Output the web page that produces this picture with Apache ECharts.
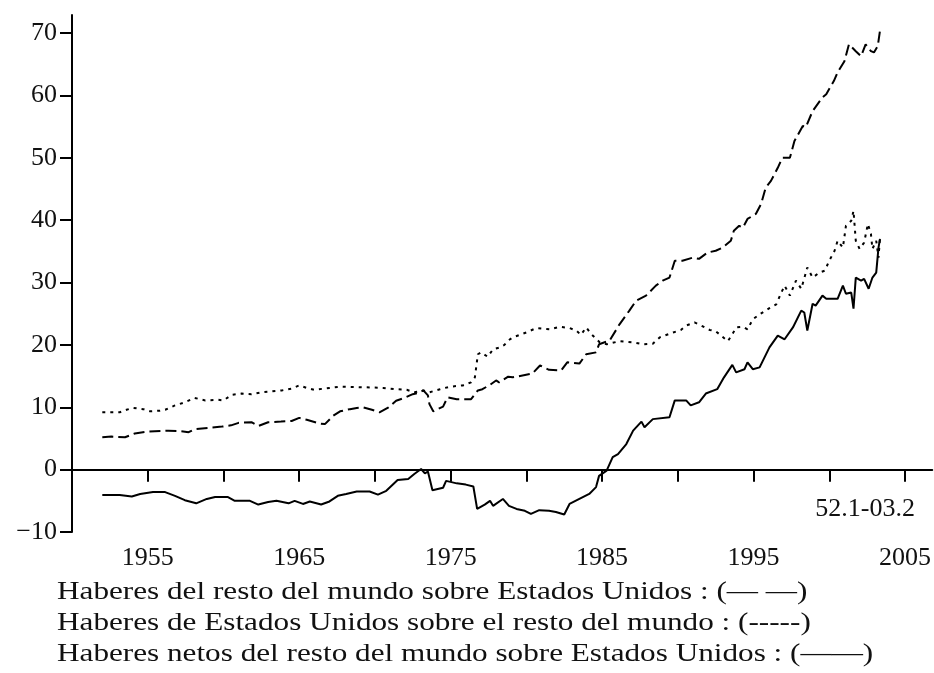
<!DOCTYPE html>
<html>
<head>
<meta charset="utf-8">
<script src="https://cdn.jsdelivr.net/npm/echarts@6/dist/echarts.min.js"></script>
<style>
  html, body { margin: 0; padding: 0; background: #fff; }
  #main { width: 934px; height: 673px; }
</style>
</head>
<body>
<div id="main"></div>
<script>
// axis ticks and labels
var xTicks = [1950, 1955, 1960, 1965, 1970, 1975, 1980, 1985, 1990, 1995, 2000, 2005];
var xLabels = [1955, 1965, 1975, 1985, 1995, 2005];
var yTicks = [-10, 0, 10, 20, 30, 40, 50, 60, 70];

// [year, % of GDP], 1952.1 - 2003.2
var foreignOnUS = [
  [1952.0, 5.2], [1952.6, 5.3], [1953.5, 5.2], [1954.15, 5.8], [1955.0, 6.1], [1956.35, 6.25],
  [1957.0, 6.2], [1957.7, 6.0], [1958.1, 6.5], [1959.0, 6.7], [1959.9, 6.9], [1960.5, 7.1],
  [1961.0, 7.5], [1961.85, 7.6], [1962.3, 7.0], [1962.95, 7.6], [1963.8, 7.7], [1964.5, 7.8],
  [1965.0, 8.3], [1965.5, 8.0], [1966.35, 7.4], [1966.7, 7.3], [1967.25, 8.65], [1967.7, 9.35],
  [1968.35, 9.7], [1968.8, 9.9], [1969.2, 10.0], [1969.8, 9.6], [1970.3, 9.2], [1970.9, 10.0],
  [1971.4, 11.05], [1971.95, 11.5], [1972.5, 12.1], [1972.9, 12.3], [1973.2, 12.7], [1973.5, 11.9],
  [1973.6, 10.5], [1973.85, 9.35], [1974.5, 10.1], [1974.8, 11.6], [1975.4, 11.3], [1976.35, 11.3],
  [1976.8, 12.7], [1977.1, 12.9], [1977.6, 13.6], [1978.0, 14.3], [1978.2, 14.0], [1978.8, 14.9],
  [1979.1, 14.8], [1980.4, 15.4], [1980.9, 16.7], [1981.5, 16.0], [1982.3, 15.9], [1982.7, 17.2],
  [1983.5, 17.0], [1983.95, 18.5], [1984.6, 18.8], [1984.8, 20.1], [1985.5, 20.7], [1986.15, 23.3],
  [1986.8, 25.5], [1987.25, 27.1], [1987.9, 27.9], [1988.55, 29.5], [1989.0, 30.3], [1989.45, 30.8],
  [1989.8, 33.5], [1990.3, 33.5], [1991.0, 34.0], [1991.4, 33.8], [1991.95, 34.8], [1992.5, 35.1],
  [1992.95, 35.6], [1993.5, 36.7], [1993.7, 38.3], [1994.05, 39.1], [1994.3, 38.8], [1994.6, 40.2],
  [1995.15, 41.0], [1995.5, 42.6], [1995.8, 45.2], [1996.15, 46.3], [1996.6, 48.4], [1996.9, 50.0],
  [1997.4, 50.0], [1997.7, 52.7], [1998.25, 55.1], [1998.45, 54.9], [1998.9, 57.5], [1999.55, 59.7],
  [1999.8, 60.2], [2000.3, 62.3], [2000.55, 63.7], [2001.0, 65.5], [2001.3, 68.2], [2001.75, 67.1],
  [2002.1, 66.3], [2002.4, 68.2], [2002.75, 67.1], [2002.95, 66.9], [2003.2, 67.9], [2003.35, 70.4]
];

var usOnForeign = [
  [1952.0, 9.2], [1953.15, 9.2], [1953.6, 9.6], [1954.05, 9.9], [1954.7, 9.7], [1955.15, 9.35],
  [1955.8, 9.45], [1956.15, 9.6], [1956.8, 10.3], [1957.45, 10.8], [1958.1, 11.5], [1958.8, 11.1],
  [1959.65, 11.2], [1960.0, 11.1], [1960.55, 12.0], [1961.2, 12.2], [1961.85, 12.1], [1962.5, 12.4],
  [1963.2, 12.55], [1963.85, 12.7], [1964.5, 13.0], [1965.0, 13.5], [1965.5, 13.1], [1966.0, 12.8],
  [1967.0, 13.1], [1967.7, 13.3], [1969.45, 13.2], [1970.55, 13.1], [1971.4, 12.9], [1972.1, 12.8],
  [1972.6, 12.4], [1973.2, 12.7], [1973.6, 12.4], [1974.3, 12.9], [1974.95, 13.3], [1975.8, 13.5],
  [1976.35, 14.0], [1976.6, 14.8], [1976.8, 18.5], [1977.0, 18.8], [1977.45, 18.1], [1977.8, 19.3],
  [1978.25, 19.6], [1978.55, 20.0], [1978.8, 20.7], [1979.1, 21.2], [1980.0, 22.0], [1980.65, 22.7],
  [1981.55, 22.5], [1982.2, 22.9], [1982.85, 22.7], [1983.3, 22.3], [1983.6, 21.6], [1983.95, 22.8],
  [1984.3, 21.7], [1984.85, 20.4], [1985.3, 20.1], [1986.15, 20.6], [1987.05, 20.4], [1987.7, 20.1],
  [1988.35, 20.2], [1988.8, 21.2], [1989.7, 22.0], [1990.2, 22.4], [1990.55, 23.1], [1991.1, 23.6],
  [1991.55, 23.1], [1992.1, 22.4], [1992.5, 22.2], [1992.85, 21.5], [1993.3, 20.6], [1993.6, 21.7],
  [1993.85, 22.8], [1994.3, 22.9], [1994.6, 22.5], [1994.95, 24.1], [1995.4, 24.9], [1996.05, 25.9],
  [1996.5, 26.5], [1996.8, 28.2], [1997.05, 29.5], [1997.4, 27.9], [1997.8, 30.3], [1998.15, 29.0],
  [1998.55, 32.4], [1998.9, 30.8], [1999.35, 31.6], [1999.7, 31.9], [2000.0, 33.5], [2000.35, 35.1],
  [2000.55, 36.7], [2000.9, 35.6], [2001.1, 39.1], [2001.45, 39.9], [2001.6, 41.5], [2001.75, 36.7],
  [2002.0, 35.4], [2002.3, 36.4], [2002.55, 39.4], [2002.75, 37.8], [2002.85, 35.4], [2003.1, 36.7],
  [2003.25, 34.0], [2003.35, 37.2]
];

var netForeign = [
  [1952.0, -4.05], [1953.15, -4.05], [1953.95, -4.3], [1954.5, -3.9], [1955.35, -3.6], [1956.15, -3.6],
  [1956.8, -4.2], [1957.45, -4.9], [1958.2, -5.4], [1958.9, -4.7], [1959.45, -4.4], [1960.3, -4.4],
  [1960.75, -5.0], [1961.75, -5.0], [1962.3, -5.6], [1962.95, -5.2], [1963.5, -5.0], [1964.3, -5.4],
  [1964.7, -5.0], [1965.25, -5.5], [1965.7, -5.1], [1966.45, -5.6], [1967.0, -5.1], [1967.55, -4.2],
  [1968.1, -3.9], [1968.8, -3.5], [1969.65, -3.5], [1970.2, -4.0], [1970.75, -3.4], [1971.5, -1.65],
  [1972.2, -1.5], [1972.6, -0.7], [1973.05, 0.1], [1973.3, -0.6], [1973.5, -0.3], [1973.8, -3.3],
  [1974.5, -2.9], [1974.7, -1.8], [1975.4, -2.2], [1976.0, -2.4], [1976.5, -2.7], [1976.75, -6.3],
  [1977.25, -5.6], [1977.6, -5.0], [1977.8, -5.8], [1978.45, -4.7], [1978.85, -5.8], [1979.35, -6.3],
  [1979.9, -6.6], [1980.3, -7.1], [1980.85, -6.5], [1981.5, -6.6], [1981.95, -6.8], [1982.5, -7.2],
  [1982.85, -5.5], [1983.5, -4.7], [1984.15, -3.9], [1984.6, -2.8], [1984.8, -1.0], [1985.3, -0.15],
  [1985.7, 2.0], [1986.05, 2.5], [1986.6, 4.1], [1987.05, 6.25], [1987.6, 7.7], [1987.8, 6.8],
  [1988.35, 8.1], [1989.45, 8.4], [1989.8, 11.1], [1990.55, 11.1], [1990.85, 10.3], [1991.4, 10.8],
  [1991.85, 12.2], [1992.6, 12.9], [1993.05, 14.8], [1993.6, 16.8], [1993.85, 15.6], [1994.4, 16.1],
  [1994.6, 17.2], [1994.95, 16.1], [1995.4, 16.4], [1996.05, 19.6], [1996.6, 21.5], [1997.05, 20.9],
  [1997.6, 22.8], [1998.15, 25.5], [1998.35, 25.2], [1998.55, 22.3], [1998.9, 26.6], [1999.1, 26.3],
  [1999.55, 27.9], [1999.8, 27.4], [2000.55, 27.4], [2000.9, 29.5], [2001.1, 28.2], [2001.45, 28.4],
  [2001.6, 25.8], [2001.75, 30.8], [2002.1, 30.3], [2002.3, 30.6], [2002.6, 29.0], [2002.85, 30.8],
  [2003.1, 31.6], [2003.25, 35.6], [2003.35, 37.0]
];

var zeroLine = [[1952.0, 0], [2003.3, 0]];

var legendLines = [
  'Haberes del resto del mundo sobre Estados Unidos : (\u2014 \u2014)',
  'Haberes de Estados Unidos sobre el resto del mundo : (-----)',
  'Haberes netos del resto del mundo sobre Estados Unidos : (\u2014\u2014)'
];
var periodNote = '52.1-03.2';

var serif = '"Liberation Serif", "DejaVu Serif", serif';
var ink = '#111';

var chartDom = document.getElementById('main');
var myChart = echarts.init(chartDom);

var graphics = legendLines.map(function (t, i) {
  return {
    type: 'text',
    x: 57,
    y: 592 + i * 31,
    scaleX: 1.2,
    style: {
      text: t,
      font: '26px ' + serif,
      fill: ink,
      verticalAlign: 'middle'
    }
  };
});
graphics.push({
  type: 'text',
  x: 915,
  y: 509,
  style: {
    text: periodNote,
    font: '26px ' + serif,
    fill: ink,
    align: 'right',
    verticalAlign: 'middle'
  }
});

function lineSeries(name, data, dash, width) {
  return {
    name: name,
    type: 'line',
    data: data,
    showSymbol: false,
    silent: true,
    lineStyle: { color: '#000', width: width, type: dash }
  };
}

var option = {
  animation: false,
  backgroundColor: '#fff',
  grid: { left: 72, right: 0, top: 15, bottom: 141 },
  xAxis: {
    type: 'value',
    min: 1950,
    max: 2006.8,
    axisLine: { lineStyle: { color: '#000', width: 2 } },
    axisTick: { length: 12, lineStyle: { color: '#000', width: 2 }, customValues: xTicks },
    axisLabel: {
      customValues: xLabels,
      margin: 13,
      color: ink,
      fontFamily: serif,
      fontSize: 26,
      formatter: function (v) { return String(v); }
    },
    splitLine: { show: false }
  },
  yAxis: {
    type: 'value',
    min: -10,
    max: 72.9,
    interval: 10,
    axisLine: { show: true, lineStyle: { color: '#000', width: 2 } },
    axisTick: { show: true, length: 12, lineStyle: { color: '#000', width: 2 }, customValues: yTicks },
    axisLabel: {
      customValues: yTicks,
      margin: 15,
      color: ink,
      fontFamily: serif,
      fontSize: 26,
      formatter: function (v) { return v < 0 ? '\u2212' + Math.abs(v) : String(v); }
    },
    splitLine: { show: false }
  },
  graphic: graphics,
  series: [
    lineSeries('zero', zeroLine, [2, 3], 1.5),
    lineSeries('Haberes del resto del mundo sobre Estados Unidos', foreignOnUS, [11, 5], 2),
    lineSeries('Haberes de Estados Unidos sobre el resto del mundo', usOnForeign, [3, 5], 2),
    lineSeries('Haberes netos del resto del mundo sobre Estados Unidos', netForeign, 'solid', 2)
  ]
};

option && myChart.setOption(option);
</script>
</body>
</html>
